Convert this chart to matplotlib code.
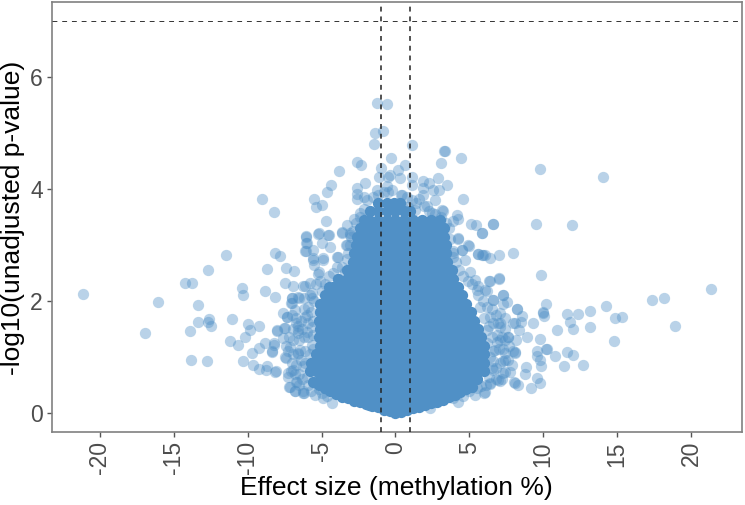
# -*- coding: utf-8 -*-
import matplotlib
matplotlib.use('Agg')
import matplotlib.pyplot as plt

plt.rcParams['font.family'] = ['Liberation Sans', 'DejaVu Sans']

# loci that stand apart from the dense cloud
left_x = [-21.17,-16.1,-16.93,-9.04,-8.25,-11.45,-12.67,-14.22,-13.77,-13.35,-13.35,-13.89,-12.65,-12.69,-12.49,
          -13.84,-12.76,-11.07,-11.18,-10.64,-10.19,-9.85,-10.01,-9.24,-10.41,-10.3,-8.81,-8.14,-8.72,-8.16,-7.82,
          -7.39,-6.87,-7.5,-6.94,-6.08,-6.02,-6.08,-10.32,-9.74,-9.22,-8.81,-9.62,-9.24,-8.72,-8.77,-8.11,-8.32,
          -8.23,-8.0,-7.64,-7.37,-7.03,-7.03,-6.58,-7.48,-7.41,-7.41,-7.26,-7.19,-6.81,-6.2,-6.24,-6.7,-6.58,-6.58,
          -6.7,-6.13,-6.13,-6.05,-5.15,-4.54,-6.01,-6.12,-5.56,-4.99,-4.43,-3.64,-3.08,-3.3,-5.56,-5.51,-4.88,-3.91,
          -3.98,-5.15,-5.22,-3.42,-6.24,-5.78,-7.02,-7.09,-6.51,-5.67,-5.67,-4.99,-7.36,-6.01,-6.8,-8.04,-7.52,-6.57,
          -6.01,-5.67,-8.22,-7.59,-8.38,-7.47,-6.46,-5.67,-7.14,-8.15,-7.25,-7.14,-6.69,-6.24,-6.8,-5.45,-4.88,-4.27,
          -6.24,-6.91]
left_y = [2.13,1.99,1.42,3.82,3.59,2.83,2.55,2.33,2.33,1.93,1.63,1.47,1.67,1.63,1.55,
          0.95,0.92,1.68,1.29,1.22,1.35,1.48,1.59,1.56,2.23,2.1,2.17,2.07,2.58,2.86,2.8,
          2.59,2.54,2.33,2.27,3.15,3.03,2.89,0.93,1.07,1.16,1.25,0.86,0.79,0.83,0.77,0.75,1.09,
          1.25,1.47,1.79,1.71,2.05,1.96,2.07,1.51,1.19,0.98,0.71,0.46,0.4,0.35,0.4,0.56,1.07,1.42,
          1.6,1.72,2.26,3.16,3.21,3.18,3.03,2.89,2.91,3.03,2.96,3.22,3.18,3.0,2.73,2.64,2.73,2.78,
          2.61,2.52,2.49,2.52,2.26,2.33,2.05,1.97,2.06,2.15,2.05,2.17,1.71,1.75,1.84,1.48,1.51,1.48,
          1.45,1.54,1.22,1.33,1.1,1.0,1.13,1.21,1.18,0.74,0.65,0.47,0.56,0.35,0.4,0.32,0.26,0.18,
          0.83,0.77]

right_x = [9.78,14.02,6.57,9.51,11.94,5.83,7.93,6.98,6.39,5.83,9.87,7.03,6.39,21.34,17.35,18.19,14.24,13.18,12.32,
           11.6,10.16,10.0,9.96,10.05,14.85,15.35,11.81,13.18,11.99,10.93,18.93,14.78,9.28,8.92,9.8,10.27,10.16,9.55,
           9.6,9.78,10.79,11.6,12.03,11.42,12.71,9.87,8.83,8.76,9.6,9.78,9.14,8.31,8.04,7.07,8.22,8.54,8.47,8.08,8.36,
           8.15,7.25,7.52,6.62,7.3,7.07,6.96,7.07,7.63,8.09,7.41,7.86,7.3,7.75,6.62,6.39,5.99,7.97,6.05,
           4.25,4.93,4.48,5.6,5.94,4.7,3.91,5.04,5.38,6.35,7.02,5.6,6.17,5.6,7.3,6.62,8.2,5.72,6.39,7.41,7.97,
           7.07,6.17,7.63,6.84,7.41,8.08,7.3,6.62,7.41,6.96,8.08,6.39,6.05,5.38,4.25,2.33,7.41,6.73]
right_y = [4.35,4.21,3.38,3.38,3.36,3.21,2.86,2.82,2.77,2.82,2.46,2.39,2.36,2.22,2.02,2.06,1.91,1.82,1.76,
           1.76,1.94,1.8,1.78,1.74,1.7,1.71,1.63,1.54,1.5,1.48,1.56,1.28,1.61,1.36,1.32,1.15,1.14,1.1,
           1.02,0.95,1.02,1.09,1.04,0.84,0.86,0.83,0.82,0.7,0.63,0.53,0.45,0.5,0.56,0.57,1.85,1.73,1.63,1.61,1.48,
           1.3,2.1,1.99,2.02,1.94,1.78,1.6,1.3,1.36,1.08,0.95,0.86,0.71,0.74,0.77,0.53,0.36,1.1,2.2,
           3.1,3.0,2.91,2.84,2.82,2.73,2.79,2.52,2.38,2.36,2.41,2.26,2.17,2.11,2.11,2.02,1.85,1.9,1.72,1.69,1.6,
           1.54,1.48,1.36,1.27,1.07,1.07,0.92,0.92,0.74,0.58,0.53,0.52,0.37,0.32,0.19,0.09,1.3,1.13]

top_x = [-1.25,-0.6,-1.41,-0.82,-1.48,1.11,-2.58,-2.31,-0.31,-3.8,-0.96,0.17,0.64,3.28,3.35,3.08,4.45,-4.37,-4.61,
         -5.54,-5.38,-4.95,-4.72,-2.04,-2.63,-2.58,-2.58,-2.13,-1.12,-0.49,-0.37,0.3,1.14,-1.28,1.88,2.27,2.9,3.48,
         2.96,2.56,1.88,1.84,1.09,0.42,1.61,2.67,4.59,2.15,0.42,0.87,1.32,2.45,3.23,3.12,4.14,3.91,4.25,5.1,5.44,
         6.62,5.83,4.25,4.99,4.52,3.91,5.6,6.05,-2.4,-2.81,-3.3,-3.64,-3.08,-5.22,-4.48,-3.35,-3.94,-5.56,-4.88]
top_y = [5.54,5.51,5.0,5.04,4.81,4.78,4.48,4.42,4.55,4.33,4.37,4.34,4.42,4.68,4.68,4.46,4.55,4.07,3.95,
         3.82,3.67,3.71,3.43,4.11,4.01,3.91,3.83,3.86,4.21,4.21,4.25,4.19,4.21,3.98,4.15,4.11,4.2,4.08,
         3.98,3.98,4.01,3.89,4.07,3.89,3.83,3.8,3.83,3.7,3.7,3.68,3.63,3.57,3.61,3.63,3.54,3.42,3.46,3.37,3.35,
         3.38,3.21,3.12,2.99,2.91,2.85,2.84,2.82,3.57,3.47,3.35,3.23,3.21,3.2,3.18,3.0,2.79,2.76,2.76]

# crowded rim right round the body of the cloud
rim_x = [-7.0,-6.7,-6.4,-6.2,-5.9,-5.7,-6.9,-6.6,-6.3,-5.9,-5.6,-7.2,-6.9,-6.5,-6.2,-5.9,-5.6,-7.3,-6.9,-6.6,-6.1,-5.8,-5.6,
         -7.0,-6.7,-6.4,-6.1,-7.1,-6.8,-6.5,-6.3,-6.0,-5.9,-6.5,-5.7,-5.5,-5.2,-5.0,-4.6,-6.2,-5.8,-5.5,-5.4,-5.1,-4.8,-4.5,
         -4.2,-3.9,-3.6,-3.3,-3.2,-3.1,-3.0,-2.9,-2.7,-2.4,-2.1,-1.9,-1.5,-1.2,-0.8,-0.5,-0.2,-0.6,
         5.9,5.5,5.2,4.9,4.6,4.3,4.1,3.9,3.7,3.6,3.4,3.1,2.7,2.3,1.9,1.4,1.1,0.8,0.4,
         6.2,6.5,6.8,7.1,6.6,6.3,6.0,7.4,7.2,6.9,6.5,6.2,7.7,7.3,7.0,6.6,6.4,7.6,7.1,6.8,6.5,7.2,6.8,6.3,6.1,5.8,5.5,5.0,4.6,3.9]
rim_y = [1.75,1.7,1.65,1.85,1.9,1.8,1.5,1.55,1.5,1.6,1.65,1.35,1.3,1.3,1.35,1.35,1.4,1.1,1.05,1.05,1.1,1.05,1.15,
         0.9,0.85,0.95,0.9,0.75,0.7,0.7,0.6,0.65,0.5,0.5,0.4,0.55,0.42,0.35,0.3,2.05,2.1,2.0,2.3,2.35,2.3,2.45,
         2.5,2.4,2.6,2.75,2.85,3.0,3.15,3.25,3.4,3.5,3.65,3.8,3.85,3.9,3.95,3.95,3.98,4.05,
         2.0,2.2,2.3,2.35,2.45,2.55,2.7,2.9,3.1,3.3,3.4,3.5,3.55,3.6,3.7,3.75,3.8,3.85,3.9,
         1.9,1.85,1.75,1.6,1.6,1.55,1.7,1.5,1.35,1.4,1.35,1.25,1.2,1.15,1.15,1.1,1.0,0.95,0.9,0.8,0.8,0.6,0.6,0.65,0.5,0.48,0.45,0.4,0.3,0.27]

# lower edge of the cloud, the V along the bottom
base_x = [-5.6,-5.2,-4.8,-4.4,-4.0,-3.6,-3.2,-2.8,-2.4,-2.0,-1.6,-1.2,-0.8,-0.4,0.0,
          0.4,0.8,1.2,1.6,2.0,2.4,2.8,3.2,3.6,4.0,4.4,4.8,5.2]
base_y = [0.55,0.5,0.44,0.4,0.34,0.29,0.26,0.22,0.19,0.16,0.13,0.1,0.06,0.03,0.0,
          0.02,0.05,0.08,0.11,0.14,0.17,0.2,0.24,0.28,0.32,0.37,0.42,0.47]

# solid body of the cloud, one list of x per height
core_y = [0.15, 0.3, 0.45, 0.6, 0.75, 0.9, 1.05, 1.2, 1.35, 1.5, 1.65, 1.8, 1.95,
          2.1, 2.25, 2.4, 2.55, 2.7, 2.85, 3.0, 3.15, 3.3, 3.45, 3.6, 3.75]
core_x = [
    [-1.8,-1.2,-0.6,0.0,0.6,1.2,1.8],
    [-3.3,-2.7,-2.1,-1.5,-0.9,-0.3,0.3,0.9,1.5,2.1,2.7,3.3],
    [-4.8,-4.2,-3.6,-3.0,-2.4,-1.8,-1.2,-0.6,0.0,0.6,1.2,1.8,2.4,3.0,3.6,4.2,4.8],
    [-5.1,-4.5,-3.9,-3.3,-2.7,-2.1,-1.5,-0.9,-0.3,0.3,0.9,1.5,2.1,2.7,3.3,3.9,4.5,5.1,5.5],
    [-5.8,-5.4,-4.8,-4.2,-3.6,-3.0,-2.4,-1.8,-1.2,-0.6,0.0,0.6,1.2,1.8,2.4,3.0,3.6,4.2,4.8,5.4,6.0],
    [-5.7,-5.1,-4.5,-3.9,-3.3,-2.7,-2.1,-1.5,-0.9,-0.3,0.3,0.9,1.5,2.1,2.7,3.3,3.9,4.5,5.1,5.7,6.0],
    [-5.4,-4.8,-4.2,-3.6,-3.0,-2.4,-1.8,-1.2,-0.6,0.0,0.6,1.2,1.8,2.4,3.0,3.6,4.2,4.8,5.4,6.0],
    [-5.1,-4.5,-3.9,-3.3,-2.7,-2.1,-1.5,-0.9,-0.3,0.3,0.9,1.5,2.1,2.7,3.3,3.9,4.5,5.1,5.7,6.0],
    [-5.2,-4.8,-4.2,-3.6,-3.0,-2.4,-1.8,-1.2,-0.6,0.0,0.6,1.2,1.8,2.4,3.0,3.6,4.2,4.8,5.4,5.8],
    [-5.1,-4.5,-3.9,-3.3,-2.7,-2.1,-1.5,-0.9,-0.3,0.3,0.9,1.5,2.1,2.7,3.3,3.9,4.5,5.1,5.6],
    [-5.2,-4.8,-4.2,-3.6,-3.0,-2.4,-1.8,-1.2,-0.6,0.0,0.6,1.2,1.8,2.4,3.0,3.6,4.2,4.8,5.3],
    [-5.1,-4.5,-3.9,-3.3,-2.7,-2.1,-1.5,-0.9,-0.3,0.3,0.9,1.5,2.1,2.7,3.3,3.9,4.5,5.1],
    [-5.1,-4.8,-4.2,-3.6,-3.0,-2.4,-1.8,-1.2,-0.6,0.0,0.6,1.2,1.8,2.4,3.0,3.6,4.2,4.8],
    [-4.8,-4.5,-3.9,-3.3,-2.7,-2.1,-1.5,-0.9,-0.3,0.3,0.9,1.5,2.1,2.7,3.3,3.9,4.5],
    [-4.5,-4.2,-3.6,-3.0,-2.4,-1.8,-1.2,-0.6,0.0,0.6,1.2,1.8,2.4,3.0,3.6,4.2],
    [-3.9,-3.3,-2.7,-2.1,-1.5,-0.9,-0.3,0.3,0.9,1.5,2.1,2.7,3.3,3.9],
    [-3.3,-3.0,-2.4,-1.8,-1.2,-0.6,0.0,0.6,1.2,1.8,2.4,3.0,3.6,3.8],
    [-2.9,-2.7,-2.1,-1.5,-0.9,-0.3,0.3,0.9,1.5,2.1,2.7,3.3,3.5],
    [-2.8,-2.4,-1.8,-1.2,-0.6,0.0,0.6,1.2,1.8,2.4,3.0,3.4],
    [-2.7,-2.1,-1.5,-0.9,-0.3,0.3,0.9,1.5,2.1,2.7,3.3,3.4],
    [-2.6,-2.4,-1.8,-1.2,-0.6,0.0,0.6,1.2,1.8,2.4,3.0,3.3],
    [-2.4,-2.1,-1.5,-0.9,-0.3,0.3,0.9,1.5,2.1,2.7,3.3],
    [-2.1,-1.8,-1.2,-0.6,0.0,0.6,1.2,1.8,2.4,3.0],
    [-1.7,-1.2,-0.6,0.0,0.6,1.0],
    [-1.2,-0.6,-0.1,0.3],
]

x_ticks = [-20, -15, -10, -5, 0, 5, 10, 15, 20]
y_ticks = [0, 2, 4, 6]
effect_cut = [-1, 1]
p_cut = 7

dot = '#5090C6'
body_x, body_y = list(base_x), list(base_y)
for y, row in zip(core_y, core_x):
    body_x += row
    body_y += [y] * len(row)

fig = plt.figure(figsize=(7.45, 5.05), dpi=100)
ax = fig.add_axes([52/745, 1-432/505, 690/745, 430/505])

loose_x = left_x + right_x + top_x + rim_x
loose_y = left_y + right_y + top_y + rim_y
ax.scatter(loose_x, loose_y, s=66, color=dot, alpha=0.4, linewidths=0, zorder=2)
ax.scatter(body_x, body_y, s=66, color=dot, alpha=1, linewidths=0, zorder=3)

for v in effect_cut:
    ax.axvline(v, color='#222222', lw=1.1, ls=(0, (3.2, 3.2)), zorder=4)
ax.axhline(p_cut, color='#333333', lw=0.7, ls=(0, (5, 5)), zorder=4)

ax.set_xlim(-23.24, 23.45)
ax.set_ylim(-0.34, 7.34)
ax.set_xticks(x_ticks)
ax.set_xticklabels([str(t) for t in x_ticks])
ax.set_yticks(y_ticks)
ax.set_yticklabels([str(t) for t in y_ticks])
ax.tick_params(axis='both', length=3.5, width=1, color='#555555', labelcolor='#4D4D4D', labelsize=16.5)
ax.tick_params(axis='x', labelrotation=90, pad=3)
ax.tick_params(axis='y', pad=3)
for s in ax.spines.values():
    s.set_color('#808080')
    s.set_linewidth(1.2)

fig.text(396.5/745, 1-488/505, 'Effect size (methylation %)', fontsize=19, ha='center', va='center', color='black')
fig.text(13/745, 1-218/505, '-log10(unadjusted p-value)', fontsize=19, rotation=90, ha='center', va='center', color='black')

fig.savefig('out.png', dpi=100)
